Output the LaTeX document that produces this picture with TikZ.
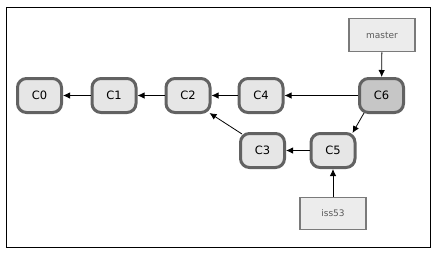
\documentclass[tikz,border=0pt]{standalone}
\usepackage{fontspec}
\setmainfont{DejaVu Sans}
\usetikzlibrary{arrows.meta}
\definecolor{cborder}{HTML}{626262}
\definecolor{cfill}{HTML}{E6E6E6}
\definecolor{cdark}{HTML}{C6C6C6}
\definecolor{bfill}{HTML}{ECECEC}
\definecolor{bborder}{HTML}{7A7A7A}
\definecolor{btext}{HTML}{5A5A5A}
\begin{document}
\begin{tikzpicture}[x=1pt,y=-1pt,
  commit/.style={draw=cborder, line width=3pt, fill=cfill, rounded corners=9pt,
    minimum width=44pt, minimum height=34pt, inner sep=0pt, font=\fontsize{11.5}{13}\selectfont},
  branch/.style={draw=bborder, line width=1.5pt, fill=bfill, minimum width=66pt,
    minimum height=33pt, inner sep=0pt, text=btext, font=\fontsize{9}{11}\selectfont},
  link/.style={draw=black, line width=0.8pt, -{Latex[length=7pt,width=6.5pt]}}]
\useasboundingbox (0,0) rectangle (438,255);
\draw[line width=1pt] (6.5,7.5) rectangle (430,247.5);
\node[commit] (C0) at (39.5,95.5) {C0};
\node[commit] (C1) at (114,95.5) {C1};
\node[commit] (C2) at (188,95.5) {C2};
\node[commit] (C4) at (261,95.5) {C4};
\node[commit, fill=cdark] (C6) at (381.5,95.5) {C6};
\node[commit] (C3) at (262.5,150.5) {C3};
\node[commit] (C5) at (333,150.5) {C5};
\node[branch] (master) at (382,35) {master};
\node[branch, minimum height=32pt] (iss53) at (333,213.5) {iss53};
\draw[link] (C1) -- (C0);
\draw[link] (C2) -- (C1);
\draw[link] (C4) -- (C2);
\draw[link] (C6) -- (C4);
\draw[link] (C5) -- (C3);
\draw[link] ([shift={(3,2)}]C3.north west) -- ([shift={(-2,-1)}]C2.south east);
\draw[link] ([shift={(6,-1)}]C6.south west) -- ([shift={(-4,1)}]C5.north east);
\draw[link] (master) -- (C6);
\draw[link] (iss53) -- (C5);
\end{tikzpicture}
\end{document}
